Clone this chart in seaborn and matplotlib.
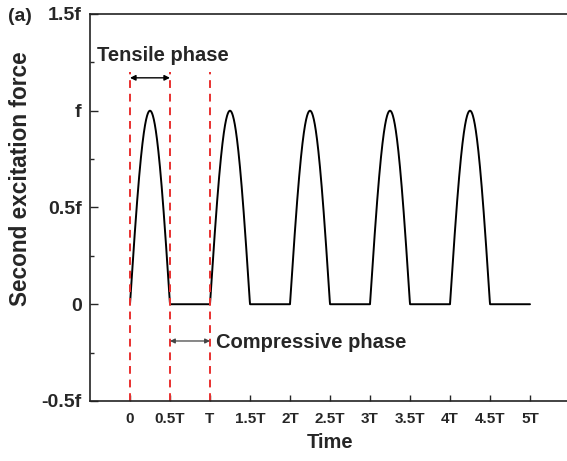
import numpy as np
import pandas as pd
import matplotlib
matplotlib.use("Agg")
import matplotlib.pyplot as plt
import seaborn as sns
from matplotlib.ticker import MultipleLocator

sns.set_theme(style="ticks")
plt.rcParams["font.family"] = ["Liberation Sans", "DejaVu Sans"]
plt.rcParams["font.weight"] = "bold"

# Excitation: half-sine tensile pulse of amplitude f in the first half of each period T
pulse_starts = [0, 1, 2, 3, 4]       # in units of T
pulse_width = 0.5                    # tensile phase length (T)
amplitude = 1.0                      # f
t_end = 5.0                          # 5T

x_ticks = [0, 0.5, 1, 1.5, 2, 2.5, 3, 3.5, 4, 4.5, 5]
x_labels = ["0", "0.5T", "T", "1.5T", "2T", "2.5T", "3T", "3.5T", "4T", "4.5T", "5T"]
y_ticks = [-0.5, 0, 0.5, 1, 1.5]
y_labels = ["-0.5f", "0", "0.5f", "f", "1.5f"]
phase_marks = [0, 0.5, 1]

t = np.linspace(0, t_end, 5001)
force = np.zeros_like(t)
for s in pulse_starts:
    m = (t >= s) & (t <= s + pulse_width)
    force[m] = amplitude * np.sin(np.pi * (t[m] - s) / pulse_width)
df = pd.DataFrame({"Time": t, "Force": force})

fig = plt.figure(figsize=(5.67, 4.61), dpi=100)
ax = fig.add_axes([0.1587, 0.1302, 0.8466, 0.8395])

sns.lineplot(data=df, x="Time", y="Force", ax=ax, color="black", lw=1.4, sort=False)

for xm in phase_marks:
    ax.plot([xm, xm], [-0.5, 1.2], color="#e8302f", lw=1.4, ls=(0, (4, 3)))

ax.annotate("", xy=(0, 1.17), xytext=(0.5, 1.17),
            arrowprops=dict(arrowstyle="<|-|>", color="black", lw=1.0,
                            mutation_scale=8, shrinkA=0, shrinkB=0))
ax.text(-0.41, 1.285, "Tensile phase", fontsize=14.5, fontweight="bold",
        ha="left", va="center")

ax.annotate("", xy=(0.5, -0.19), xytext=(1.0, -0.19),
            arrowprops=dict(arrowstyle="<|-|>", color="#444444", lw=0.9,
                            mutation_scale=7, shrinkA=0, shrinkB=0))
ax.text(1.08, -0.2, "Compressive phase", fontsize=14.5, fontweight="bold",
        ha="left", va="center")

ax.set_xlim(-0.5, 5.5)
ax.set_ylim(-0.5, 1.5)
ax.set_xticks(x_ticks)
ax.set_xticklabels(x_labels, fontsize=11, fontweight="bold")
ax.set_yticks(y_ticks)
ax.set_yticklabels(y_labels, fontsize=14, fontweight="bold")
ax.yaxis.set_minor_locator(MultipleLocator(0.25))
ax.tick_params(axis="y", which="major", direction="in", length=6, width=1, pad=6)
ax.tick_params(axis="y", which="minor", direction="in", length=3, width=1)
ax.tick_params(axis="x", which="major", direction="in", length=4, width=1, pad=8)

ax.set_xlabel("Time", fontsize=14.5, fontweight="bold", labelpad=5)
ax.set_ylabel("Second excitation force", fontsize=16.3, fontweight="bold")
ax.yaxis.set_label_coords(-0.121, 0.574)

for sp in ax.spines.values():
    sp.set_linewidth(1.2)
    sp.set_color("#222222")

fig.text(0.014, 0.965, "(a)", fontsize=14, fontweight="bold", ha="left", va="center")

fig.savefig("out.png", dpi=100)
